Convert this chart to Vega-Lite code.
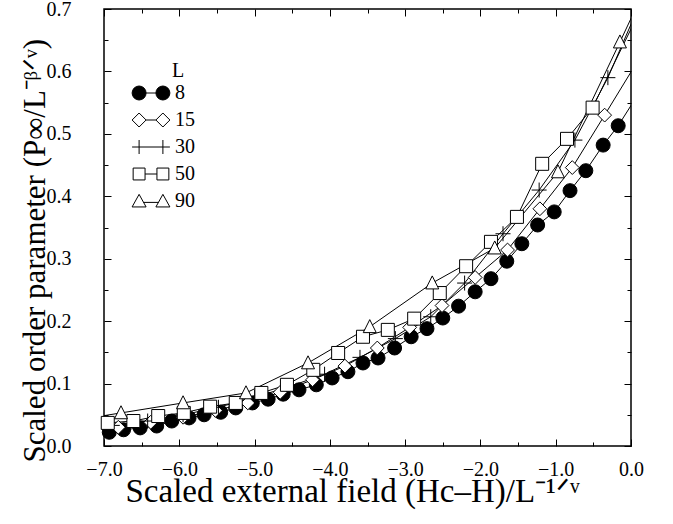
{
  "$schema": "https://vega.github.io/schema/vega-lite/v6.json",
  "width": 527,
  "height": 437,
  "autosize": {"type": "none"},
  "padding": {"left": 104, "top": 9, "right": 42, "bottom": 78},
  "background": "white",
  "config": {
    "view": {"stroke": "black", "strokeWidth": 1.5},
    "axis": {"labelColor": "black", "tickColor": "black", "titleColor": "black", "labelFont": "Liberation Serif", "titleFont": "Liberation Serif", "titleFontWeight": "normal", "grid": false, "domain": false, "tickWidth": 1}
  },
  "data": {
    "values": [
      {"L": "8", "x": -6.93, "y": 0.022}, {"L": "8", "x": -6.74, "y": 0.026}, {"L": "8", "x": -6.52, "y": 0.029}, {"L": "8", "x": -6.30, "y": 0.032},
      {"L": "8", "x": -6.10, "y": 0.040}, {"L": "8", "x": -5.87, "y": 0.045}, {"L": "8", "x": -5.67, "y": 0.050}, {"L": "8", "x": -5.45, "y": 0.054},
      {"L": "8", "x": -5.25, "y": 0.061}, {"L": "8", "x": -5.03, "y": 0.069}, {"L": "8", "x": -4.82, "y": 0.075}, {"L": "8", "x": -4.62, "y": 0.083},
      {"L": "8", "x": -4.41, "y": 0.090}, {"L": "8", "x": -4.18, "y": 0.098}, {"L": "8", "x": -3.97, "y": 0.109}, {"L": "8", "x": -3.76, "y": 0.119},
      {"L": "8", "x": -3.56, "y": 0.133}, {"L": "8", "x": -3.36, "y": 0.141}, {"L": "8", "x": -3.14, "y": 0.157}, {"L": "8", "x": -2.92, "y": 0.175},
      {"L": "8", "x": -2.71, "y": 0.188}, {"L": "8", "x": -2.50, "y": 0.205}, {"L": "8", "x": -2.29, "y": 0.224}, {"L": "8", "x": -2.07, "y": 0.247},
      {"L": "8", "x": -1.86, "y": 0.268}, {"L": "8", "x": -1.65, "y": 0.296}, {"L": "8", "x": -1.45, "y": 0.324}, {"L": "8", "x": -1.24, "y": 0.354},
      {"L": "8", "x": -1.02, "y": 0.375}, {"L": "8", "x": -0.81, "y": 0.409}, {"L": "8", "x": -0.60, "y": 0.441}, {"L": "8", "x": -0.37, "y": 0.482},
      {"L": "8", "x": -0.17, "y": 0.513}, {"L": "8", "x": 0.04, "y": 0.553},
      {"L": "15", "x": -7.24, "y": 0.024}, {"L": "15", "x": -6.81, "y": 0.030}, {"L": "15", "x": -6.38, "y": 0.038}, {"L": "15", "x": -5.95, "y": 0.046},
      {"L": "15", "x": -5.52, "y": 0.057}, {"L": "15", "x": -5.09, "y": 0.069}, {"L": "15", "x": -4.66, "y": 0.086}, {"L": "15", "x": -4.23, "y": 0.106},
      {"L": "15", "x": -3.80, "y": 0.128}, {"L": "15", "x": -3.37, "y": 0.157}, {"L": "15", "x": -2.94, "y": 0.190}, {"L": "15", "x": -2.51, "y": 0.225},
      {"L": "15", "x": -2.07, "y": 0.270}, {"L": "15", "x": -1.64, "y": 0.314}, {"L": "15", "x": -1.21, "y": 0.380}, {"L": "15", "x": -0.78, "y": 0.446},
      {"L": "15", "x": -0.35, "y": 0.530}, {"L": "15", "x": 0.08, "y": 0.615},
      {"L": "30", "x": -7.36, "y": 0.027}, {"L": "30", "x": -6.89, "y": 0.033}, {"L": "30", "x": -6.42, "y": 0.040}, {"L": "30", "x": -5.95, "y": 0.050},
      {"L": "30", "x": -5.48, "y": 0.062}, {"L": "30", "x": -5.00, "y": 0.078}, {"L": "30", "x": -4.54, "y": 0.095}, {"L": "30", "x": -4.07, "y": 0.115},
      {"L": "30", "x": -3.60, "y": 0.142}, {"L": "30", "x": -3.13, "y": 0.172}, {"L": "30", "x": -2.66, "y": 0.207}, {"L": "30", "x": -2.21, "y": 0.261},
      {"L": "30", "x": -1.70, "y": 0.340}, {"L": "30", "x": -1.22, "y": 0.410}, {"L": "30", "x": -0.745, "y": 0.490}, {"L": "30", "x": -0.307, "y": 0.590},
      {"L": "30", "x": 0.16, "y": 0.720},
      {"L": "50", "x": -7.29, "y": 0.032}, {"L": "50", "x": -6.95, "y": 0.037}, {"L": "50", "x": -6.61, "y": 0.040}, {"L": "50", "x": -6.28, "y": 0.048},
      {"L": "50", "x": -5.94, "y": 0.053}, {"L": "50", "x": -5.59, "y": 0.063}, {"L": "50", "x": -5.25, "y": 0.069}, {"L": "50", "x": -4.91, "y": 0.085},
      {"L": "50", "x": -4.57, "y": 0.098}, {"L": "50", "x": -4.22, "y": 0.122}, {"L": "50", "x": -3.89, "y": 0.149}, {"L": "50", "x": -3.56, "y": 0.175},
      {"L": "50", "x": -3.23, "y": 0.186}, {"L": "50", "x": -2.88, "y": 0.204}, {"L": "50", "x": -2.54, "y": 0.245}, {"L": "50", "x": -2.19, "y": 0.288},
      {"L": "50", "x": -1.86, "y": 0.327}, {"L": "50", "x": -1.515, "y": 0.367}, {"L": "50", "x": -1.18, "y": 0.452}, {"L": "50", "x": -0.85, "y": 0.492},
      {"L": "50", "x": -0.51, "y": 0.542}, {"L": "50", "x": 0.17, "y": 0.710},
      {"L": "90", "x": -7.6, "y": 0.037}, {"L": "90", "x": -6.774, "y": 0.053}, {"L": "90", "x": -5.95, "y": 0.069}, {"L": "90", "x": -5.114, "y": 0.085},
      {"L": "90", "x": -4.29, "y": 0.133}, {"L": "90", "x": -3.47, "y": 0.191}, {"L": "90", "x": -2.64, "y": 0.261}, {"L": "90", "x": -1.81, "y": 0.317},
      {"L": "90", "x": -0.97, "y": 0.439}, {"L": "90", "x": -0.147, "y": 0.647}, {"L": "90", "x": 0.68, "y": 0.860}
    ]
  },
  "layer": [
    {
      "mark": {"type": "line", "color": "black", "strokeWidth": 1, "clip": true},
      "encoding": {
        "x": {
          "field": "x", "type": "quantitative",
          "scale": {"domain": [-7, 0], "nice": false, "zero": false},
          "axis": {
            "orient": "bottom",
            "values": [-7, -6.5, -6, -5.5, -5, -4.5, -4, -3.5, -3, -2.5, -2, -1.5, -1, -0.5, 0],
            "labelExpr": "abs(datum.value - round(datum.value)) < 0.001 ? format(datum.value, '.1f') : ''",
            "tickSize": {"condition": {"test": "abs(datum.value - round(datum.value)) < 0.001", "value": -7}, "value": -4},
            "labelFontSize": 20, "labelPadding": 20, "labelFlush": false, "labelOverlap": false,
            "title": "Scaled external field (Hc–H)/L⁻¹ᐟᵛ",
            "titleFontSize": 33, "titleX": 21, "titleY": 55, "titleAlign": "left", "titleBaseline": "alphabetic", "titleAngle": 0
          }
        },
        "y": {
          "field": "y", "type": "quantitative",
          "scale": {"domain": [0, 0.7], "nice": false, "zero": false},
          "axis": {
            "orient": "left",
            "values": [0, 0.05, 0.1, 0.15, 0.2, 0.25, 0.3, 0.35, 0.4, 0.45, 0.5, 0.55, 0.6, 0.65, 0.7],
            "labelExpr": "abs(datum.value * 10 - round(datum.value * 10)) < 0.001 ? format(datum.value, '.1f') : ''",
            "tickSize": {"condition": {"test": "abs(datum.value * 10 - round(datum.value * 10)) < 0.001", "value": -7}, "value": -4},
            "labelFontSize": 20, "labelPadding": 40, "labelFlush": false, "labelOverlap": false,
            "title": "Scaled order parameter (P∞/L⁻ᵝᐟᵛ)",
            "titleFontSize": 31, "titleX": -60, "titleY": 453, "titleAlign": "left", "titleBaseline": "alphabetic", "titleAngle": 270
          }
        },
        "detail": {"field": "L", "type": "nominal"}
      }
    },
    {
      "transform": [{"filter": "datum.x >= -7 && datum.x <= 0"}],
      "mark": {"type": "point", "stroke": "black", "strokeWidth": 1, "opacity": 1},
      "encoding": {
        "x": {
          "field": "x", "type": "quantitative",
          "scale": {"domain": [-7, 0], "nice": false, "zero": false},
          "axis": {
            "orient": "top",
            "values": [-7, -6.5, -6, -5.5, -5, -4.5, -4, -3.5, -3, -2.5, -2, -1.5, -1, -0.5, 0],
            "labels": false, "title": null,
            "tickSize": {"condition": {"test": "abs(datum.value - round(datum.value)) < 0.001", "value": -7}, "value": -4}
          }
        },
        "y": {
          "field": "y", "type": "quantitative",
          "scale": {"domain": [0, 0.7], "nice": false, "zero": false},
          "axis": {
            "orient": "right",
            "values": [0, 0.05, 0.1, 0.15, 0.2, 0.25, 0.3, 0.35, 0.4, 0.45, 0.5, 0.55, 0.6, 0.65, 0.7],
            "labels": false, "title": null,
            "tickSize": {"condition": {"test": "abs(datum.value * 10 - round(datum.value * 10)) < 0.001", "value": -7}, "value": -4}
          }
        },
        "shape": {
          "condition": [{"test": "datum.L == '8'", "value": "circle"}, {"test": "datum.L == '15'", "value": "diamond"}, {"test": "datum.L == '30'", "value": "M-1,0L1,0M0,-1L0,1"}, {"test": "datum.L == '50'", "value": "square"}],
          "value": "M0,-1.1L1,0.9L-1,0.9Z"
        },
        "fill": {
          "condition": [{"test": "datum.L == '8'", "value": "black"}, {"test": "datum.L == '30'", "value": "transparent"}],
          "value": "white"
        },
        "size": {
          "condition": [{"test": "datum.L == '8'", "value": 196}, {"test": "datum.L == '15'", "value": 190}, {"test": "datum.L == '30'", "value": 225}],
          "value": 169
        }
      }
    },
    {
      "mark": {"type": "point", "stroke": "black", "strokeWidth": 1, "opacity": 0},
      "encoding": {
        "x": {"field": "x", "type": "quantitative", "axis": null},
        "y": {"field": "y", "type": "quantitative", "axis": null},
        "fill": {
          "field": "L", "type": "nominal",
          "scale": {"domain": ["8", "15", "30", "50", "90"], "range": ["black", "white", "transparent", "white", "white"]},
          "legend": {"orient": "none", "legendX": 68, "legendY": 52, "title": "L", "titleFont": "Liberation Serif", "titleFontSize": 20, "titleFontWeight": "normal", "titleColor": "black", "titlePadding": 2, "labelFont": "Liberation Serif", "labelFontSize": 20, "labelColor": "black", "symbolSize": 196, "symbolStrokeWidth": 1, "symbolOpacity": 1, "symbolOffset": -31, "labelOffset": 14, "rowPadding": 7, "padding": 0}
        },
        "shape": {
          "field": "L", "type": "nominal",
          "scale": {"domain": ["8", "15", "30", "50", "90"], "range": [
            "M-0.7,0L-0.776,0.383L-0.993,0.707L-1.317,0.924L-1.7,1L-2.083,0.924L-2.407,0.707L-2.624,0.383L-2.7,0L-2.624,-0.383L-2.407,-0.707L-2.083,-0.924L-1.7,-1L-1.317,-0.924L-0.993,-0.707L-0.776,-0.383ZM0.7,0L0.776,0.383L0.993,0.707L1.317,0.924L1.7,1L2.083,0.924L2.407,0.707L2.624,0.383L2.7,0L2.624,-0.383L2.407,-0.707L2.083,-0.924L1.7,-1L1.317,-0.924L0.993,-0.707L0.776,-0.383ZM-0.7,0L0.7,0",
            "M-2.7,0L-1.7,-1L-0.7,0L-1.7,1ZM0.7,0L1.7,-1L2.7,0L1.7,1ZM-0.7,0L0.7,0",
            "M-2.7,0L2.7,0M-1.7,-1L-1.7,1M1.7,-1L1.7,1",
            "M-2.55,-0.85L-0.85,-0.85L-0.85,0.85L-2.55,0.85ZM0.85,-0.85L2.55,-0.85L2.55,0.85L0.85,0.85ZM-0.85,0L0.85,0",
            "M-1.7,-0.95L-0.7,0.85L-2.7,0.85ZM1.7,-0.95L2.7,0.85L0.7,0.85ZM-1.06,0.2L1.06,0.2"
          ]},
          "legend": {"orient": "none", "legendX": 68, "legendY": 52, "title": "L", "titleFont": "Liberation Serif", "titleFontSize": 20, "titleFontWeight": "normal", "titleColor": "black", "titlePadding": 2, "labelFont": "Liberation Serif", "labelFontSize": 20, "labelColor": "black", "symbolSize": 196, "symbolStrokeWidth": 1, "symbolOpacity": 1, "symbolOffset": -31, "labelOffset": 14, "rowPadding": 7, "padding": 0}
        }
      }
    }
  ],
  "resolve": {"axis": {"x": "independent", "y": "independent"}}
}
